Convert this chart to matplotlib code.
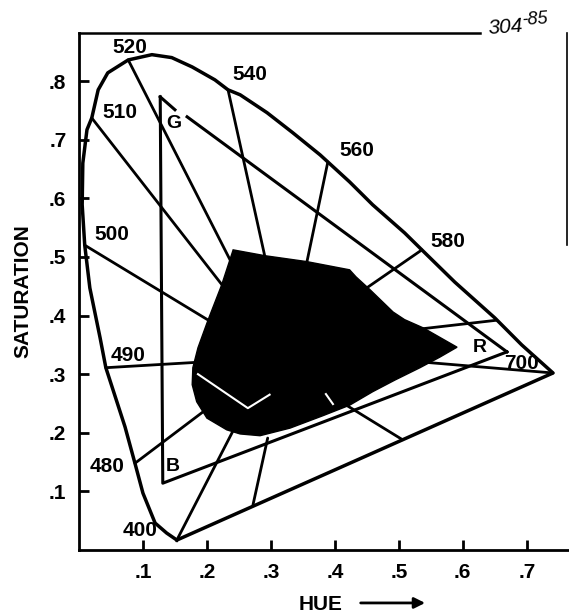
import matplotlib.pyplot as plt
import numpy as np

plt.rcParams['font.family'] = ['Liberation Sans', 'DejaVu Sans']

# spectral locus (x = hue, y = saturation)
locus_x = [0.153, 0.137, 0.119, 0.100, 0.0875, 0.072, 0.042, 0.033, 0.017, 0.009,
           0.005, 0.006, 0.0125, 0.020, 0.030, 0.045, 0.077, 0.114, 0.145, 0.177,
           0.2125, 0.233, 0.252, 0.294, 0.334, 0.377, 0.389, 0.423, 0.459, 0.509, 0.536,
           0.5875, 0.650, 0.692, 0.741]
locus_y = [0.017, 0.029, 0.046, 0.097, 0.148, 0.210, 0.311, 0.362, 0.447, 0.520,
           0.589, 0.660, 0.717, 0.737, 0.785, 0.814, 0.836, 0.845, 0.840, 0.824,
           0.802, 0.785, 0.7765, 0.746, 0.712, 0.674, 0.662, 0.628, 0.589, 0.541, 0.512,
           0.457, 0.396, 0.350, 0.302]

# wavelength marks on the locus
wl_labels = ['520', '540', '560', '580', '510', '500', '490', '480', '400', '700']
wl_label_x = [0.080, 0.267, 0.434, 0.577, 0.064, 0.052, 0.077, 0.044, 0.095, 0.692]
wl_label_y = [0.858, 0.811, 0.681, 0.527, 0.746, 0.539, 0.331, 0.143, 0.034, 0.319]

# lines from the locus in toward the gamut
spoke_x0 = [0.077, 0.020, 0.009, 0.042, 0.0875, 0.153, 0.233, 0.389, 0.536, 0.653, 0.741, 0.295, 0.392]
spoke_y0 = [0.836, 0.737, 0.520, 0.311, 0.148, 0.017, 0.785, 0.662, 0.512, 0.392, 0.302, 0.191, 0.2645]
spoke_x1 = [0.252, 0.236, 0.228, 0.2125, 0.2125, 0.252, 0.297, 0.352, 0.439, 0.517, 0.533, 0.272, 0.506]
spoke_y1 = [0.461, 0.435, 0.375, 0.322, 0.251, 0.227, 0.469, 0.469, 0.439, 0.375, 0.321, 0.077, 0.188]

# primaries triangle
prim_names = ['G', 'B', 'R']
prim_x = [0.127, 0.131, 0.669]
prim_y = [0.773, 0.114, 0.338]
prim_label_x = [0.148, 0.147, 0.627]
prim_label_y = [0.727, 0.142, 0.345]

# black (filled) region
blob_x = [0.241, 0.291, 0.356, 0.423, 0.433, 0.455, 0.491, 0.509, 0.538, 0.591,
          0.564, 0.533, 0.494, 0.459, 0.423, 0.381, 0.330, 0.283, 0.252, 0.231,
          0.200, 0.184, 0.177, 0.178, 0.186, 0.202, 0.223]
blob_y = [0.512, 0.502, 0.492, 0.478, 0.466, 0.444, 0.406, 0.393, 0.379, 0.346,
          0.329, 0.311, 0.290, 0.270, 0.247, 0.229, 0.208, 0.195, 0.198, 0.205,
          0.225, 0.253, 0.282, 0.311, 0.345, 0.393, 0.452]

white1_x = [0.186, 0.264, 0.298]
white1_y = [0.300, 0.242, 0.265]
white2_x = [0.386, 0.397]
white2_y = [0.266, 0.249]

xticks = [0.1, 0.2, 0.3, 0.4, 0.5, 0.6, 0.7]
yticks = [0.1, 0.2, 0.3, 0.4, 0.5, 0.6, 0.7, 0.8]

fig = plt.figure(figsize=(5.69, 6.14), dpi=100)
ax = fig.add_axes([0.1388, 0.1042, 0.8612, 0.8421])
ax.set_xlim(0, 0.766)
ax.set_ylim(0, 0.882)

k = 'black'
# spokes first, blob goes over them
for a, b, c, d in zip(spoke_x0, spoke_y0, spoke_x1, spoke_y1):
    ax.plot([a, c], [b, d], color=k, lw=2.0, solid_capstyle='round', zorder=2)

ax.plot(locus_x + [locus_x[0]], locus_y + [locus_y[0]], color=k, lw=2.5,
        solid_joinstyle='round', zorder=3)

# triangle: G-B, B-R, and G-R broken by the G label
gx, bx, rx = prim_x
gy, by, ry = prim_y
ax.plot([gx, bx, rx], [gy, by, ry], color=k, lw=2.2, zorder=3)
ax.plot([gx, 0.150], [gy, 0.751], color=k, lw=2.2, zorder=3)
ax.plot([0.169, rx], [0.739, ry], color=k, lw=2.2, zorder=3)

ax.fill(blob_x, blob_y, color=k, zorder=4)
ax.plot(white1_x, white1_y, color='white', lw=1.5, zorder=5)
ax.plot(white2_x, white2_y, color='white', lw=1.5, zorder=5)

for t, x, y in zip(wl_labels, wl_label_x, wl_label_y):
    ax.text(x, y, t, fontsize=15, fontweight='bold', ha='center', va='center', zorder=6)
for t, x, y in zip(prim_names, prim_label_x, prim_label_y):
    ax.text(x, y, t, fontsize=14, fontweight='bold', ha='center', va='center', zorder=6)

# frame: left and bottom axes, partial top and right border
for s in ['top', 'right']:
    ax.spines[s].set_visible(False)
for s in ['left', 'bottom']:
    ax.spines[s].set_linewidth(2.0)
ax.plot([0, 0.818], [1, 1], transform=ax.transAxes, color=k, lw=1.8, clip_on=False)
ax.plot([0.7625, 0.7625], [0.520, 0.882], color=k, lw=1.2, clip_on=False)
ax.text(0.638, 0.874, '304', fontsize=15, style='italic', ha='left', va='bottom', rotation=4)
ax.text(0.692, 0.889, '-85', fontsize=13, style='italic', ha='left', va='bottom', rotation=4)

ax.set_xticks(xticks)
ax.set_xticklabels(['.' + str(int(round(v * 10))) for v in xticks])
ax.set_yticks(yticks)
ax.set_yticklabels(['.' + str(int(round(v * 10))) for v in yticks])
ax.tick_params(direction='in', length=7, width=2, labelsize=15, pad=9)
for lab in ax.get_xticklabels() + ax.get_yticklabels():
    lab.set_fontweight('bold')

ax.set_ylabel('SATURATION', fontsize=15, fontweight='bold', labelpad=12)
fig.text(0.524, 0.016, 'HUE', fontsize=15, fontweight='bold', ha='left', va='center')
fig.patches.append(plt.matplotlib.patches.FancyArrowPatch(
    (0.629, 0.018), (0.752, 0.018), transform=fig.transFigure,
    arrowstyle='-|>', mutation_scale=16, lw=2, color=k))

fig.savefig('out.png', dpi=100)
